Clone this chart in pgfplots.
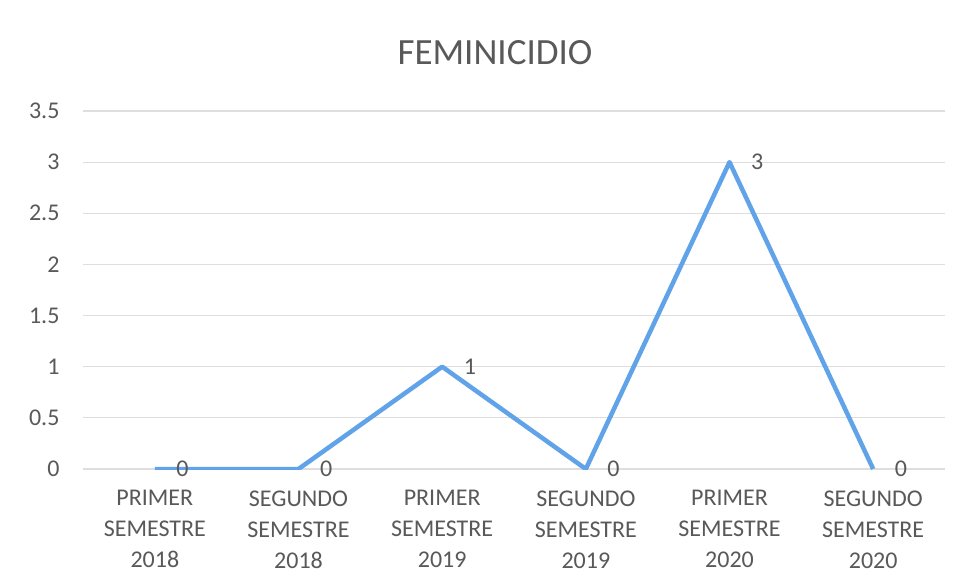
\documentclass[border=0pt]{standalone}
\usepackage{fontspec}
\setmainfont{Carlito}
\usepackage{pgfplots}
\pgfplotsset{compat=1.18}
\definecolor{txtgray}{RGB}{89,89,89}
\definecolor{lineblue}{RGB}{96,163,232}
\definecolor{gridgray}{RGB}{222,222,222}
\begin{document}
\begin{tikzpicture}[x=1pt,y=1pt]
\path[use as bounding box, fill=white] (0,0) rectangle (961,587);
\node[font=\fontsize{37}{40}\selectfont, text=txtgray] at (495,534) {FEMINICIDIO};
\begin{axis}[
    at={(83pt,118pt)}, anchor=south west,
    scale only axis,
    width=862pt, height=358pt,
    xmin=-0.5, xmax=5.5,
    ymin=0, ymax=3.5,
    ytick={0,0.5,...,3.5},
    xtick={0,...,5},
    xticklabels={{PRIMER\\SEMESTRE\\2018},{SEGUNDO\\SEMESTRE\\2018},{PRIMER\\SEMESTRE\\2019},{SEGUNDO\\SEMESTRE\\2019},{PRIMER\\SEMESTRE\\2020},{SEGUNDO\\SEMESTRE\\2020}},
    xticklabel style={align=center, font=\fontsize{24}{31}\selectfont, text=txtgray, yshift=-18pt},
    yticklabel style={font=\fontsize{24}{28}\selectfont, text=txtgray, xshift=-20pt},
    /pgf/number format/assume math mode=true,
    axis line style={draw=none},
    major tick style={draw=none},
    ymajorgrids,
    grid style={gridgray, line width=1.2pt},
    nodes near coords,
    nodes near coords style={font=\fontsize{24}{28}\selectfont, text=txtgray, anchor=west, xshift=16pt},
]
\addplot[lineblue, line width=4.5pt, line join=round, mark=none] coordinates {
    (0,0) (1,0) (2,1) (3,0) (4,3) (5,0)
};
\end{axis}
\end{tikzpicture}
\end{document}
